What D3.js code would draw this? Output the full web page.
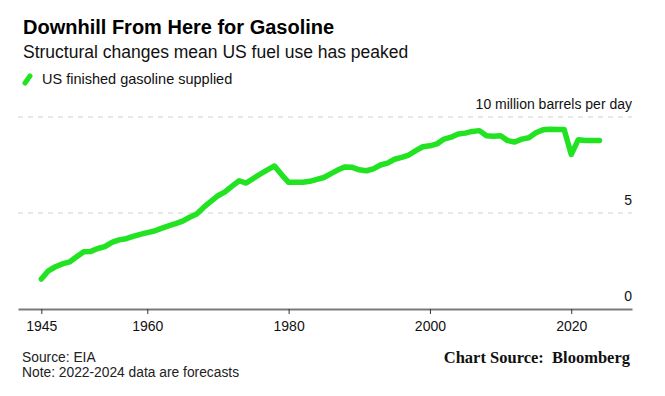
<!DOCTYPE html>
<html>
<head>
<meta charset="utf-8">
<script src="https://cdn.jsdelivr.net/npm/d3@7"></script>
<style>
  body { margin: 0; background: #fff; }
  svg { display: block; font-family: "Liberation Sans", Arial, sans-serif; }
</style>
</head>
<body>
<div id="chart"></div>
<script>
// US finished gasoline supplied, million barrels per day
const years = d3.range(1945, 2025);
const supplied = [
  1.56, 1.99, 2.2, 2.35, 2.45, 2.72, 2.98, 3.0, 3.15, 3.25,
  3.47, 3.6, 3.66, 3.78, 3.89, 3.98, 4.06, 4.2, 4.33, 4.45,
  4.58, 4.78, 4.95, 5.3, 5.6, 5.9, 6.1, 6.4, 6.68, 6.56,
  6.8, 7.03, 7.25, 7.45, 7.0, 6.6, 6.6, 6.6, 6.65, 6.75,
  6.85, 7.05, 7.25, 7.4, 7.38, 7.25, 7.2, 7.3, 7.5, 7.6,
  7.8, 7.9, 8.02, 8.25, 8.45, 8.5, 8.6, 8.85, 8.95, 9.12,
  9.16, 9.25, 9.29, 9.02, 9.0, 9.02, 8.77, 8.7, 8.85, 8.92,
  9.18, 9.33, 9.36, 9.35, 9.35, 8.05, 8.82, 8.78, 8.78, 8.78
];
const xTicks = [1945, 1960, 1980, 2000, 2020];
const yTicks = [0, 5, 10];
const yTickLabels = ["0", "5", "10 million barrels per day"];

const width = 665,
    height = 396,
    margin = ({top: 117, right: 33, bottom: 87, left: 18});

const green = "#22e322";

let svg = d3.select("#chart")
    .append("svg")
    .attr("width", width)
    .attr("height", height)
    .attr("viewBox", [0, 0, width, height]);

let x = d3.scaleLinear()
    .domain([1941.7, 2028.6])
    .range([margin.left, width - margin.right]);

let y = d3.scaleLinear()
    .domain([0, 10])
    .range([height - margin.bottom, margin.top]);

// titles
svg.append("text")
    .attr("x", 23).attr("y", 34)
    .attr("font-size", 20).attr("font-weight", "bold")
    .attr("fill", "#000")
    .text("Downhill From Here for Gasoline");

svg.append("text")
    .attr("x", 23).attr("y", 58)
    .attr("font-size", 17.5)
    .attr("fill", "#111")
    .text("Structural changes mean US fuel use has peaked");

// legend
svg.append("line")
    .attr("x1", 25).attr("y1", 83)
    .attr("x2", 30).attr("y2", 76)
    .attr("stroke", green).attr("stroke-width", 5)
    .attr("stroke-linecap", "round");

svg.append("text")
    .attr("x", 42).attr("y", 84)
    .attr("font-size", 14.5)
    .attr("fill", "#111")
    .text("US finished gasoline supplied");

// grid lines (dashed) for 5 and 10
svg.append("g")
    .selectAll("line")
    .data(yTicks.filter(d => d > 0))
    .join("line")
    .attr("x1", margin.left)
    .attr("x2", width - margin.right)
    .attr("y1", d => y(d))
    .attr("y2", d => y(d))
    .attr("stroke", "#d0d0d0")
    .attr("stroke-width", 1)
    .attr("stroke-dasharray", "5,5");

// y labels above grid lines, right aligned
svg.append("g")
    .selectAll("text")
    .data(yTicks)
    .join("text")
    .attr("x", width - margin.right)
    .attr("y", d => y(d) - 8)
    .attr("text-anchor", "end")
    .attr("font-size", 14)
    .attr("fill", "#111")
    .text((d, i) => yTickLabels[i]);

// x axis
const xAxis = g => g
    .attr("transform", `translate(0,${y(0)})`)
    .call(d3.axisBottom(x).tickValues(xTicks).tickFormat(d3.format("d")).tickSize(5).tickSizeOuter(0))
    .call(g => g.select(".domain").attr("stroke", "#7a7a7a").attr("stroke-width", 2))
    .call(g => g.selectAll(".tick line").attr("stroke", "#333"))
    .call(g => g.selectAll(".tick text")
        .attr("font-family", "'Liberation Sans', Arial, sans-serif")
        .attr("font-size", 14)
        .attr("fill", "#111")
        .attr("dy", "1.0em"));

svg.append("g").call(xAxis);

// line
const line = d3.line()
    .x((d, i) => x(years[i]))
    .y(d => y(d));

svg.append("path")
    .datum(supplied)
    .attr("fill", "none")
    .attr("stroke", green)
    .attr("stroke-width", 5.5)
    .attr("stroke-linejoin", "round")
    .attr("stroke-linecap", "round")
    .attr("d", line);

// footer
svg.append("text")
    .attr("x", 22).attr("y", 362)
    .attr("font-size", 13.8)
    .attr("fill", "#222")
    .text("Source: EIA");

svg.append("text")
    .attr("x", 22).attr("y", 377)
    .attr("font-size", 13.8)
    .attr("fill", "#222")
    .text("Note: 2022-2024 data are forecasts");

svg.append("text")
    .attr("x", 630).attr("y", 363)
    .attr("text-anchor", "end")
    .attr("font-family", "'Liberation Serif', 'Times New Roman', serif")
    .attr("font-size", 16.5)
    .attr("font-weight", "bold")
    .attr("fill", "#111")
    .attr("xml:space", "preserve")
    .text("Chart Source:  Bloomberg");
</script>
</body>
</html>
